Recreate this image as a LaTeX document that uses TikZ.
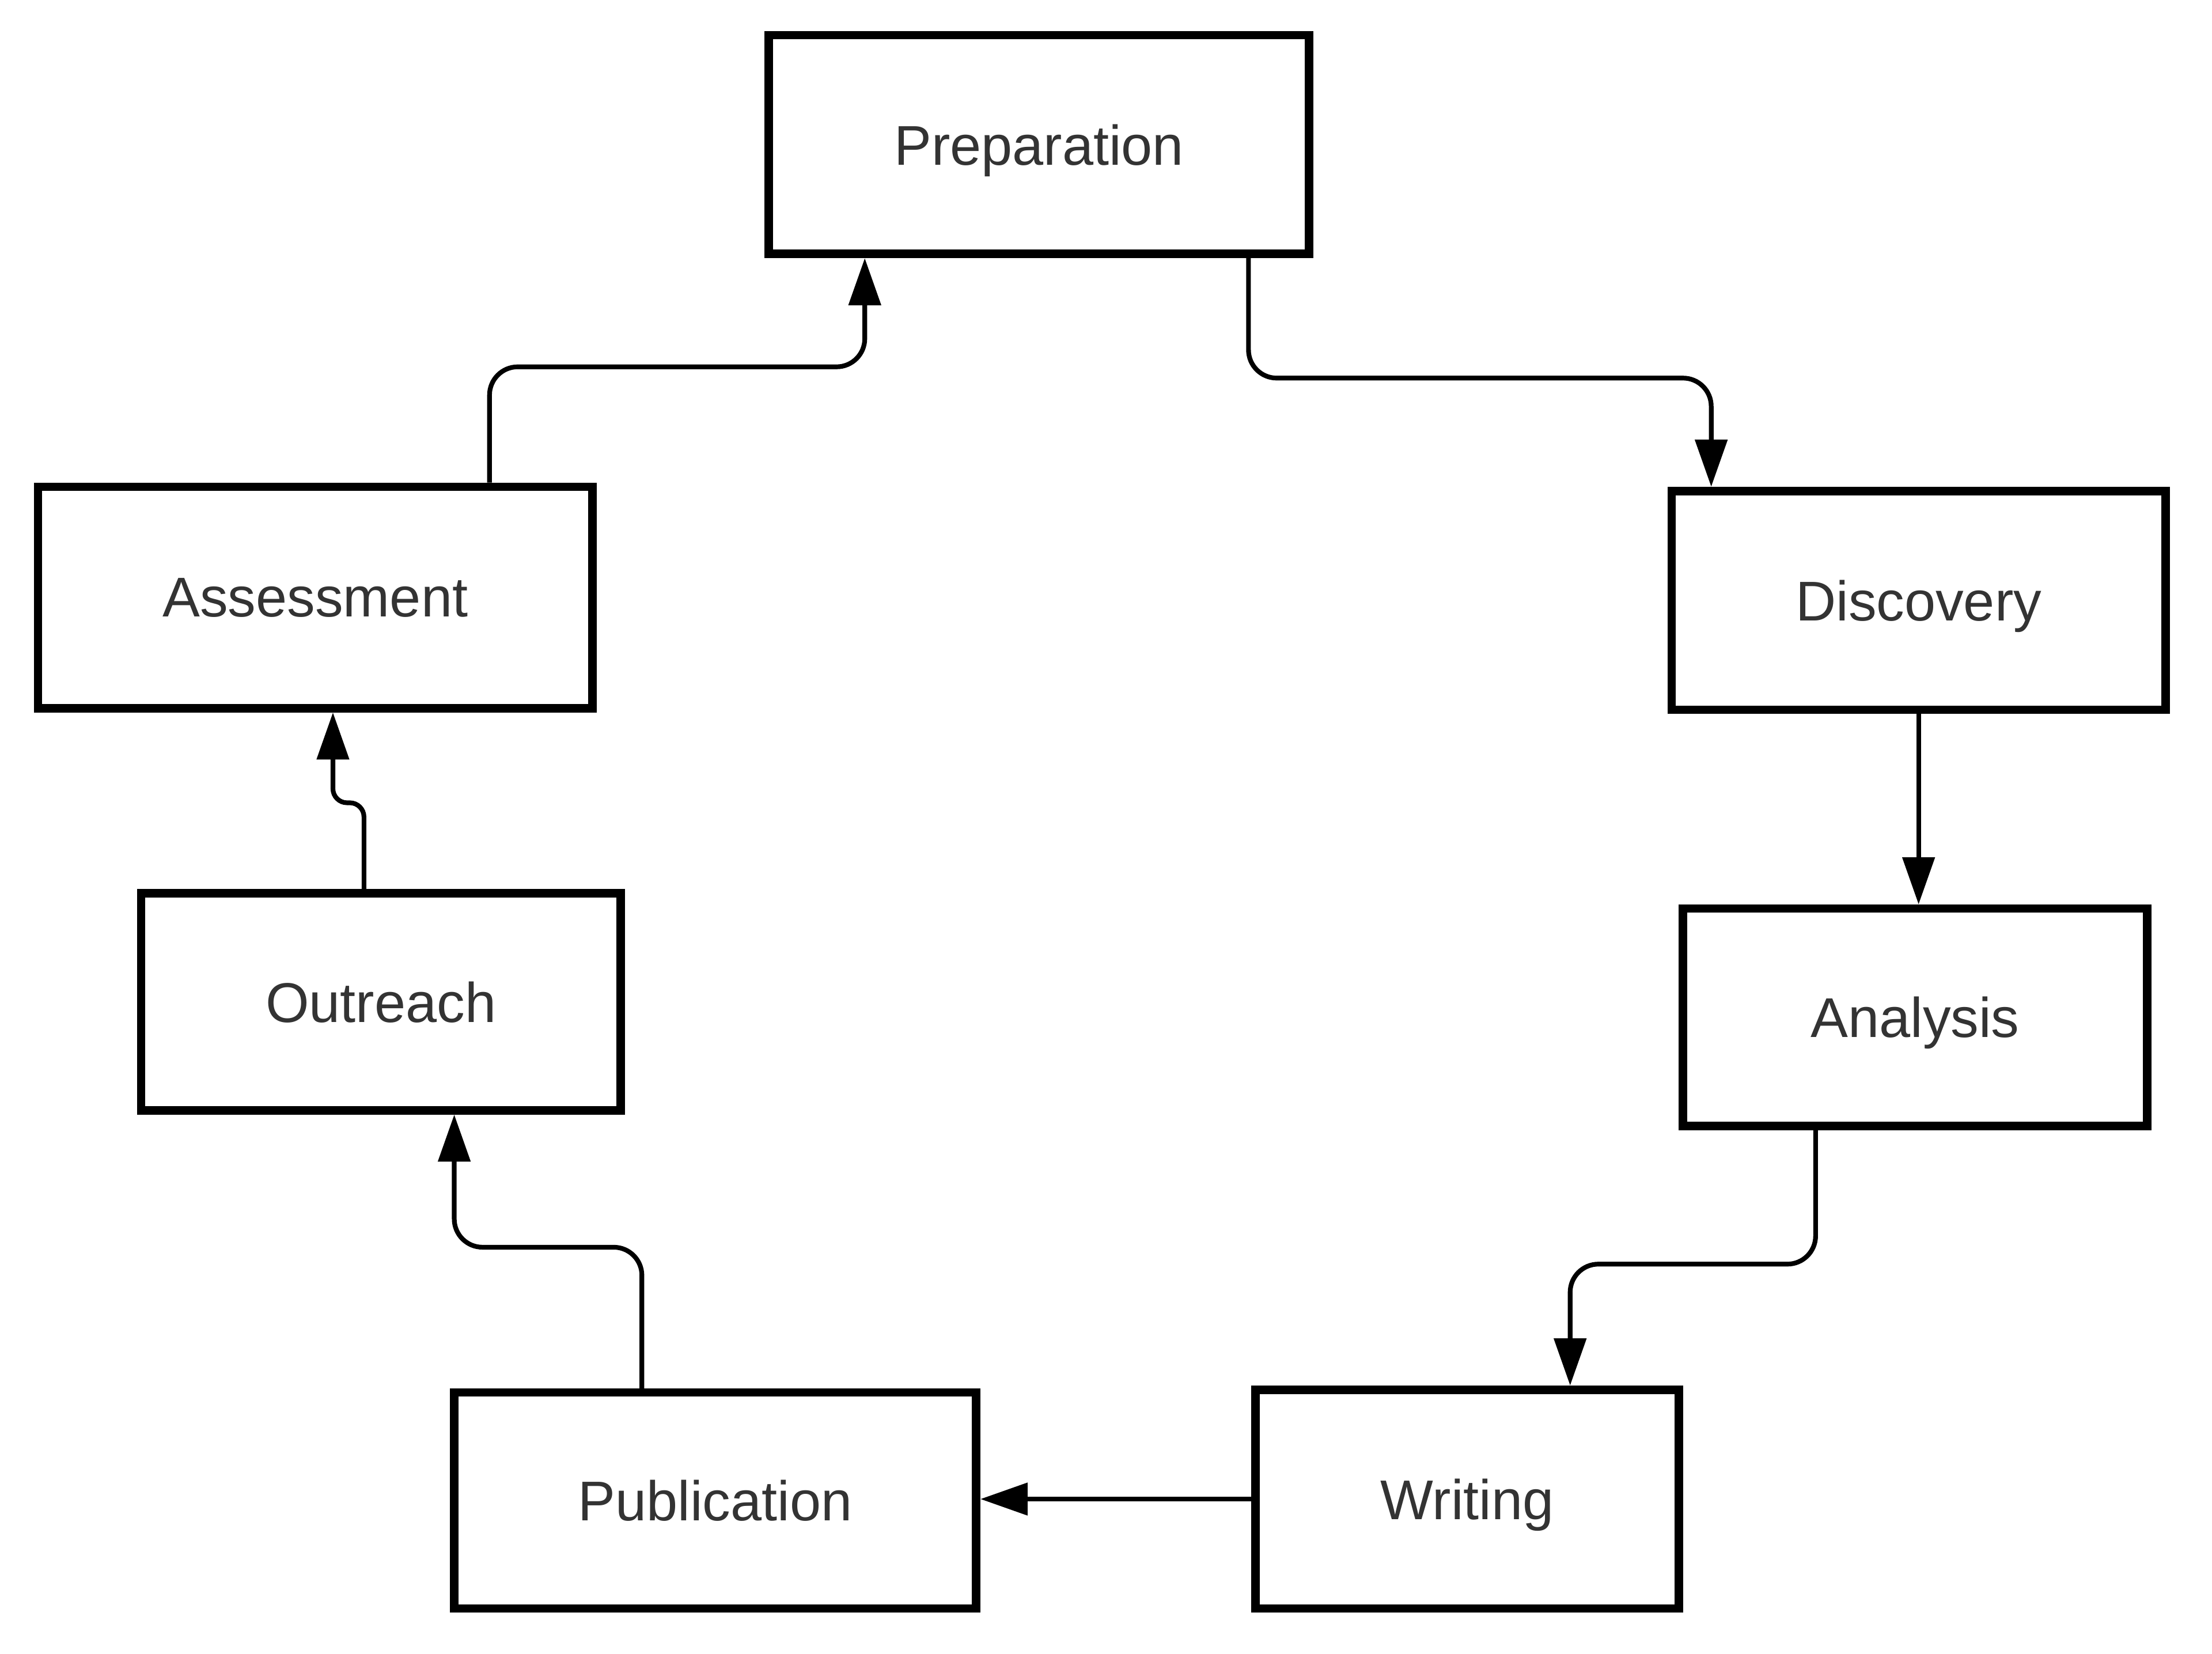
\documentclass[tikz,border=0pt]{standalone}
\usepackage{fontspec}
\setmainfont{Liberation Sans}
\usepackage{xcolor}
\usetikzlibrary{arrows.meta, positioning, calc}
\definecolor{txt}{HTML}{333333}

\begin{document}
\begin{tikzpicture}
    \tikzset{>={Triangle[length=9.5pt,width=6.4pt]}}
    \tikzset{stage/.style={draw=black,line width=1.7pt,text=txt,font=\fontsize{11.3}{13}\selectfont,
        minimum height=1.55cm,inner sep=0pt,text depth=0pt}}
    \tikzset{link/.style={->,line width=0.95pt,rounded corners=0.2cm}}
    \useasboundingbox (0,0) rectangle (15.68,11.72);

    \node[stage,minimum width=3.83cm] (prep) at (7.365,10.695) {Preparation};
    \node[stage,minimum width=3.50cm] (disc) at (13.60,7.465) {Discovery};
    \node[stage,minimum width=3.29cm,minimum height=1.54cm] (anal) at (13.575,4.51) {Analysis};
    \node[stage,minimum width=3.00cm] (writ) at (10.40,1.095) {Writing};
    \node[stage,minimum width=3.70cm,minimum height=1.53cm] (publ) at (5.07,1.085) {Publication};
    \node[stage,minimum width=3.40cm,minimum height=1.54cm] (outr) at (2.70,4.62) {Outreach};
    \node[stage,minimum width=3.93cm,minimum height=1.57cm] (asse) at (2.235,7.485) {Assessment};

    % the cycle
    \draw[link] ([xshift=1.485cm]prep.south) -- ++(0,-0.85) -| ([xshift=-1.47cm]disc.north);
    \draw[link] (disc.south) -- (disc.south |- anal.north);
    \draw[link] ([xshift=-0.705cm]anal.south) -- ++(0,-0.95) -| ([xshift=0.73cm]writ.north);
    \draw[link] (writ.west) -- (writ.west -| publ.east);
    \draw[link] ([xshift=-0.52cm]publ.north) -- ++(0,1.0) -| ([xshift=0.52cm]outr.south);
    \draw[link,rounded corners=0.1cm] ([xshift=-0.12cm]outr.north) -- ++(0,0.61) -| ([xshift=0.125cm]asse.south);
    \draw[link] ([xshift=1.235cm]asse.north) -- ++(0,0.82) -| ([xshift=-1.235cm]prep.south);
\end{tikzpicture}
\end{document}
